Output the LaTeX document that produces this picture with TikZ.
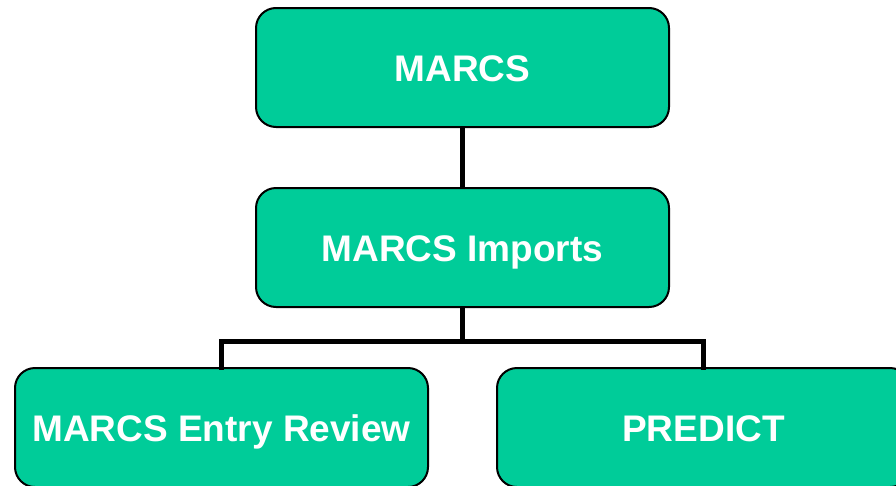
\documentclass[tikz,border=0pt]{standalone}
\usepackage{fontspec}
\setmainfont{Liberation Sans}
\usetikzlibrary{positioning}
\definecolor{boxgreen}{HTML}{00CC99}

\tikzset{
	orgbox/.style={draw=black, fill=boxgreen, line width=2pt, rounded corners=20pt,
		minimum width=413pt, minimum height=119pt, inner sep=0pt,
		text height=27pt, text depth=0pt,
		text=white, font=\fontsize{37}{42}\selectfont\bfseries},
	link/.style={line width=5pt, color=black}
}

\begin{document}
\begin{tikzpicture}[x=1pt, y=-1pt]
		\useasboundingbox (0, 0) rectangle (896, 485);
\node[orgbox] (marcs) at (462.5, 67.5) {MARCS};
\node[orgbox] (imports) at (462.5, 247.5) {MARCS Imports};
\node[orgbox] (review) at (221.5, 427.5) {MARCS Entry Review};
\node[orgbox] (predict) at (703.5, 427.5) {PREDICT};
% \draw[red] (0,342) -- (896,342);
\coordinate (split) at (462.5, 342);
\draw[link] (marcs) -- (imports);
\draw[link] (imports) -- (split);
\draw[link, line cap=rect] (review.north) -- ++(0, -26) -| (predict.north);
\end{tikzpicture}
\end{document}
